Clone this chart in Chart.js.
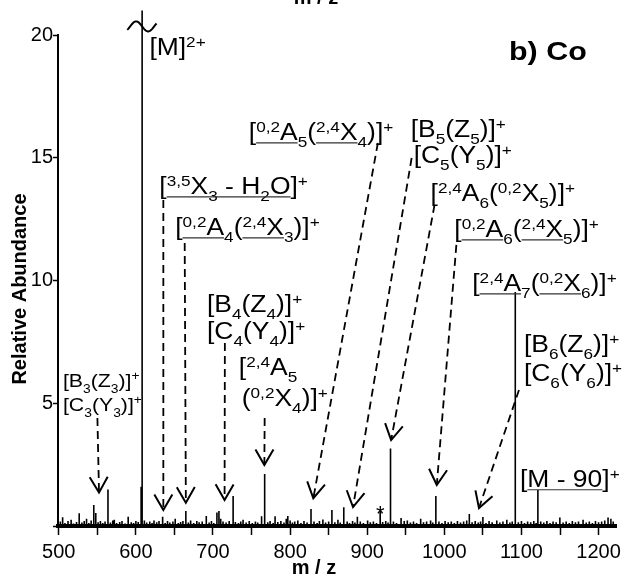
<!DOCTYPE html>
<html>
<head>
<meta charset="utf-8">
<title>Co adduct fragmentation spectrum</title>
<script src="https://cdn.jsdelivr.net/npm/chart.js@4/dist/chart.umd.min.js"></script>
<style>
  html, body { margin: 0; padding: 0; background: #fff; }
  #wrap { width: 626px; height: 577px; position: relative; }
</style>
</head>
<body>
<div id="wrap"><canvas id="spectrum" width="626" height="577"></canvas></div>
<script>
// ---- data -------------------------------------------------------------
// Fragment peaks: m/z and relative abundance.
// The [M]2+ precursor (608.1) runs off the 0-20 scale and is cut with a break mark.
const peakMz     = [545.4, 548.0, 563.8, 606.8, 608.1, 634.7, 664.8, 691.3, 705.1, 707.7,
                    726.1, 767.0, 797.0, 827.1, 854.2, 869.6, 887.2, 916.8, 930.2, 943.9,
                    989.0, 1032.4, 1050.0, 1092.0, 1121.3, 1212.3];
const peakHeight = [0.86, 0.53, 1.49, 1.6, 21.0, 0.38, 0.61, 0.41, 0.55, 0.61,
                    1.22, 2.12, 0.41, 0.69, 0.65, 0.76, 0.38, 0.61, 3.16, 0.33,
                    1.22, 0.49, 0.37, 9.53, 1.47, 0.35];

// Baseline noise spikes [m/z, abundance]
const noise = [
  [502,0.18],[505,0.36],[508,0.12],[512,0.2],[516,0.25],[519,0.1],[523,0.16],[526.5,0.52],[530,0.14],[533,0.2],
  [536,0.3],[539,0.12],[542,0.22],[551,0.15],[554,0.2],[557,0.12],[560,0.18],[567,0.14],[570,0.22],[572,0.25],
  [575,0.12],[579,0.16],[582,0.2],[586,0.1],[590,0.38],[594,0.15],[597,0.12],[600,0.2],[603,0.16],[611,0.22],
  [614,0.14],[618,0.18],[621,0.12],[623.5,0.22],[627,0.15],[630,0.2],[638,0.12],[641,0.2],[644,0.14],[648,0.18],
  [651,0.3],[655,0.12],[658,0.16],[661,0.2],[668,0.14],[671,0.22],[675,0.12],[679,0.2],[682,0.15],[686,0.18],
  [695,0.14],[698,0.2],[701,0.12],[710,0.3],[713,0.18],[717,0.14],[721,0.2],[729,0.16],[733,0.12],[736,0.18],
  [739,0.25],[743,0.14],[747,0.2],[751,0.12],[755,0.18],[758,0.14],[763,0.4],[771,0.15],[774,0.2],[778,0.12],
  [780.5,0.4],[784,0.16],[788,0.2],[792,0.14],[795,0.3],[800,0.22],[803,0.14],[806,0.18],[810,0.22],[814,0.12],
  [818,0.2],[822,0.14],[831,0.18],[835,0.12],[838,0.2],[842.5,0.26],[846,0.14],[850,0.18],[858,0.15],[862,0.25],
  [865,0.14],[874,0.18],[877,0.12],[881,0.2],[884,0.14],[891,0.18],[895,0.12],[900.5,0.22],[904,0.15],[908,0.18],
  [912,0.12],[920,0.16],[924,0.2],[927,0.14],[934,0.18],[938,0.12],[948,0.2],[952,0.22],[956,0.14],[960,0.18],
  [964,0.12],[969.3,0.3],[973,0.15],[977,0.18],[982.2,0.22],[985,0.14],[993,0.18],[997,0.12],[1001,0.2],[1005,0.15],
  [1009,0.18],[1013,0.12],[1017,0.2],[1021,0.14],[1025,0.18],[1029,0.22],[1036,0.15],[1040,0.2],[1044,0.14],[1047,0.18],
  [1054,0.12],[1058,0.2],[1062,0.15],[1068,0.22],[1072,0.14],[1076,0.18],[1081,0.25],[1085,0.14],[1088,0.18],[1096,0.15],
  [1100,0.2],[1104,0.12],[1108,0.18],[1112,0.15],[1116,0.2],[1119,0.12],[1125,0.18],[1129,0.14],[1133,0.2],[1137,0.12],
  [1141,0.18],[1145,0.15],[1149.8,0.35],[1154,0.14],[1158,0.18],[1162,0.12],[1166,0.2],[1170,0.15],[1174,0.18],[1179.9,0.25],
  [1184,0.14],[1188,0.18],[1192,0.12],[1196,0.2],[1200,0.15],[1204,0.18],[1208,0.22],[1216,0.3],[1219,0.18]
];

// Axis ticks
const xTicks = [500, 550, 600, 650, 700, 750, 800, 850, 900, 950, 1000, 1050, 1100, 1150, 1200];
const yTicks = [0, 5, 10, 15, 20];

// Fragment assignments. Markup: ^{..} superscript, _{..} subscript, <u>..</u> underline.
// Anchor = left end of the text baseline, in (m/z, abundance).
const fragmentLabels = [
  { text: '[M]^{2+}',                                 mz: 617.5,  ab: 19.19 },
  { text: '[<u>^{0,2}A</u>_{5}(<u>^{2,4}X</u>_{4})]^{+}', mz: 746.4,  ab: 15.72 },
  { text: '[B_{5}(Z_{5})]^{+}',                       mz: 956.3,  ab: 15.84 },
  { text: '[C_{5}(Y_{5})]^{+}',                       mz: 960.2,  ab: 14.79 },
  { text: '[<u>^{3,5}X_{3} - H_{2}O</u>]^{+}',        mz: 630.4,  ab: 13.52 },
  { text: '[^{2,4}A_{6}(^{0,2}X_{5})]^{+}',           mz: 982.1,  ab: 13.24 },
  { text: '[<u>^{0,2}A</u>_{4}(<u>^{2,4}X</u>_{3})]^{+}', mz: 651.0,  ab: 11.85 },
  { text: '[<u>^{0,2}A</u>_{6}(<u>^{2,4}X</u>_{5})]^{+}', mz: 1013.0, ab: 11.77 },
  { text: '[<u>^{2,4}A</u>_{7}(<u>^{0,2}X</u>_{6})]^{+}', mz: 1036.2, ab: 9.57 },
  { text: '[B_{4}(Z_{4})]^{+}',                       mz: 692.2,  ab: 8.72 },
  { text: '[C_{4}(Y_{4})]^{+}',                       mz: 692.2,  ab: 7.62 },
  { text: '[^{2,4}A_{5}',                             mz: 733.5,  ab: 6.15 },
  { text: '(^{0,2}X_{4})]^{+}',                       mz: 737.3,  ab: 4.89 },
  { text: '[B_{6}(Z_{6})]^{+}',                       mz: 1103.2, ab: 7.09 },
  { text: '[C_{6}(Y_{6})]^{+}',                       mz: 1103.2, ab: 5.91 },
  { text: '[B_{3}(Z_{3})]^{+}',                       mz: 505.4,  ab: 5.66, small: true },
  { text: '[C_{3}(Y_{3})]^{+}',                       mz: 505.4,  ab: 4.68, small: true },
  { text: '[<u>M - 90</u>]^{+}',                      mz: 1098.1, ab: 1.59 }
];

// Dashed pointers from assignments to their peaks: [m/z, abundance] start -> tip
const pointers = [
  { from: [550.1, 4.40],  to: [552.2, 1.36] },
  { from: [635.6, 13.28], to: [635.6, 0.65] },
  { from: [663.3, 11.53], to: [664.8, 0.95] },
  { from: [715.4, 7.45],  to: [715.0, 1.06] },
  { from: [767.0, 4.40],  to: [766.6, 2.48] },
  { from: [913.8, 15.60], to: [830.1, 1.13] },
  { from: [957.6, 14.99], to: [881.6, 0.77] },
  { from: [987.3, 13.08], to: [931.0, 3.50] },
  { from: [1015.6, 11.45], to: [990.2, 1.67] },
  { from: [1096.8, 5.54], to: [1044.9, 0.73] }
];

const FONT = '"Liberation Sans", Arial, Helvetica, sans-serif';

// ---- spectrum as stick plot ----------------------------------------------
const sticks = peakMz.map((m, i) => [m, peakHeight[i]]).concat(noise).sort((a, b) => a[0] - b[0]);
const spectrumPoints = [{ x: 499, y: 0 }];
for (const [m, h] of sticks) {
  spectrumPoints.push({ x: m, y: 0 }, { x: m, y: h }, { x: m, y: 0 });
}
spectrumPoints.push({ x: 1223, y: 0 });

// ---- rich text helpers ---------------------------------------------------
function parseRich(str) {
  const out = [];
  let u = false, i = 0;
  while (i < str.length) {
    if (str.startsWith('<u>', i)) { u = true; i += 3; continue; }
    if (str.startsWith('</u>', i)) { u = false; i += 4; continue; }
    const c = str[i];
    if ((c === '^' || c === '_') && str[i + 1] === '{') {
      const end = str.indexOf('}', i);
      out.push({ text: str.slice(i + 2, end), kind: c === '^' ? 'sup' : 'sub', u });
      i = end + 1;
      continue;
    }
    let j = i;
    while (j < str.length && !(str[j] === '<' || ((str[j] === '^' || str[j] === '_') && str[j + 1] === '{'))) j++;
    out.push({ text: str.slice(i, j), kind: 'n', u });
    i = j;
  }
  return out;
}

function drawRich(ctx, str, x, y, size, stretch) {
  const segs = parseRich(str);
  const small = size * 0.65;
  ctx.save();
  ctx.translate(x, y);
  ctx.scale(stretch, 1);
  ctx.textBaseline = 'alphabetic';
  ctx.textAlign = 'left';
  ctx.fillStyle = '#000';
  let cx = 0;
  const spans = [];
  for (const s of segs) {
    const fs = s.kind === 'n' ? size : small;
    ctx.font = fs + 'px ' + FONT;
    const dy = s.kind === 'sup' ? -size * 0.36 : (s.kind === 'sub' ? size * 0.3 : 0);
    ctx.fillText(s.text, cx, dy);
    const w = ctx.measureText(s.text).width;
    if (s.u) {
      const last = spans[spans.length - 1];
      if (last && Math.abs(last[1] - cx) < 0.01) last[1] = cx + w; else spans.push([cx, cx + w]);
    }
    cx += w;
  }
  ctx.strokeStyle = '#333';
  ctx.lineWidth = 1.2;
  for (const [a, b] of spans) {
    ctx.beginPath();
    ctx.moveTo(a, size * 0.12);
    ctx.lineTo(b, size * 0.12);
    ctx.stroke();
  }
  ctx.restore();
}

// ---- plugins -----------------------------------------------------------
const annotations = {
  id: 'spectrumAnnotations',
  afterDatasetsDraw(chart) {
    const { ctx, scales: { x, y } } = chart;
    const px = v => x.getPixelForValue(v);
    const py = v => y.getPixelForValue(v);
    ctx.save();

    // scale-break mark on the off-scale precursor peak
    const bx = px(608.1), by = py(20.35);
    ctx.strokeStyle = '#000';
    ctx.lineWidth = 2;
    ctx.beginPath();
    for (let t = -0.12; t <= 1.12; t += 0.02) {
      const xx = bx - 12 + 24 * t, yy = by - 5 * Math.sin(2 * Math.PI * t);
      if (t === -0.12) ctx.moveTo(xx, yy); else ctx.lineTo(xx, yy);
    }
    ctx.stroke();

    // dashed pointers with open arrowheads
    ctx.lineCap = 'butt';
    for (const p of pointers) {
      const x0 = px(p.from[0]), y0 = py(p.from[1]);
      const x1 = px(p.to[0]), y1 = py(p.to[1]);
      ctx.lineWidth = 1.8;
      ctx.setLineDash([8, 5]);
      ctx.beginPath();
      ctx.moveTo(x0, y0);
      ctx.lineTo(x1, y1);
      ctx.stroke();
      ctx.setLineDash([]);
      const ang = Math.atan2(y0 - y1, x0 - x1);
      const L = 18, h = Math.PI / 6;
      ctx.lineWidth = 2;
      ctx.beginPath();
      ctx.moveTo(x1 + L * Math.cos(ang - h), y1 + L * Math.sin(ang - h));
      ctx.lineTo(x1, y1);
      ctx.lineTo(x1 + L * Math.cos(ang + h), y1 + L * Math.sin(ang + h));
      ctx.stroke();
    }

    // fragment assignments
    for (const l of fragmentLabels) {
      drawRich(ctx, l.text, px(l.mz), py(l.ab), l.small ? 18.5 : 23, 1.15);
    }

    // marker above the 916.8 peak
    ctx.fillStyle = '#000';
    ctx.font = '22px ' + FONT;
    ctx.textAlign = 'center';
    ctx.textBaseline = 'alphabetic';
    ctx.fillText('*', px(916.8), py(0.2));

    // panel tag
    ctx.save();
    ctx.translate(px(1083.9), py(18.98));
    ctx.scale(1.17, 1);
    ctx.font = 'bold 26px ' + FONT;
    ctx.textAlign = 'left';
    ctx.fillText('b) Co', 0, 0);
    ctx.restore();

    ctx.restore();
  }
};

const axisTitles = {
  id: 'axisTitles',
  afterDraw(chart) {
    const { ctx } = chart;
    ctx.save();
    ctx.fillStyle = '#000';
    ctx.font = 'bold 20px ' + FONT;
    ctx.textAlign = 'center';
    ctx.textBaseline = 'alphabetic';
    ctx.fillText('m / z', 314, 574);
    ctx.fillText('m / z', 316, 3.5);
    ctx.translate(26, 289);
    ctx.rotate(-Math.PI / 2);
    ctx.fillText('Relative Abundance', 0, 0);
    ctx.restore();
  }
};

// ---- chart -------------------------------------------------------------
Chart.defaults.font.family = FONT;
Chart.defaults.color = '#000';

new Chart(document.getElementById('spectrum'), {
  type: 'scatter',
  data: {
    datasets: [{
      data: spectrumPoints,
      showLine: true,
      borderColor: '#000',
      borderWidth: 1.6,
      borderJoinStyle: 'bevel',
      pointRadius: 0,
      tension: 0,
      clip: false
    }]
  },
  options: {
    responsive: false,
    animation: false,
    events: [],
    layout: { padding: { top: 35, right: 6, left: 0, bottom: 0 } },
    plugins: { legend: { display: false }, tooltip: { enabled: false } },
    scales: {
      x: {
        type: 'linear',
        min: 499,
        max: 1223,
        afterFit: s => { s.height = 51; },
        afterBuildTicks: s => { s.ticks = xTicks.map(v => ({ value: v })); },
        ticks: {
          autoSkip: false,
          maxRotation: 0,
          padding: 5,
          font: { size: 20 },
          color: '#000',
          callback: v => (v % 100 === 0 ? String(v) : '')
        },
        grid: { drawOnChartArea: false, drawTicks: true, tickLength: 9, tickColor: '#000', tickWidth: 1.5 },
        border: { display: true, color: '#000', width: 4 }
      },
      y: {
        type: 'linear',
        min: 0,
        max: 20,
        afterFit: s => { s.width = 58; },
        afterBuildTicks: s => { s.ticks = yTicks.map(v => ({ value: v })); },
        ticks: {
          padding: 0,
          font: { size: 20 },
          color: '#000',
          callback: v => (v === 0 ? '' : String(v))
        },
        grid: { drawOnChartArea: false, drawTicks: true, tickLength: 5, tickColor: '#000', tickWidth: 1.5 },
        border: { display: true, color: '#000', width: 2 }
      }
    }
  },
  plugins: [annotations, axisTitles]
});
</script>
</body>
</html>
